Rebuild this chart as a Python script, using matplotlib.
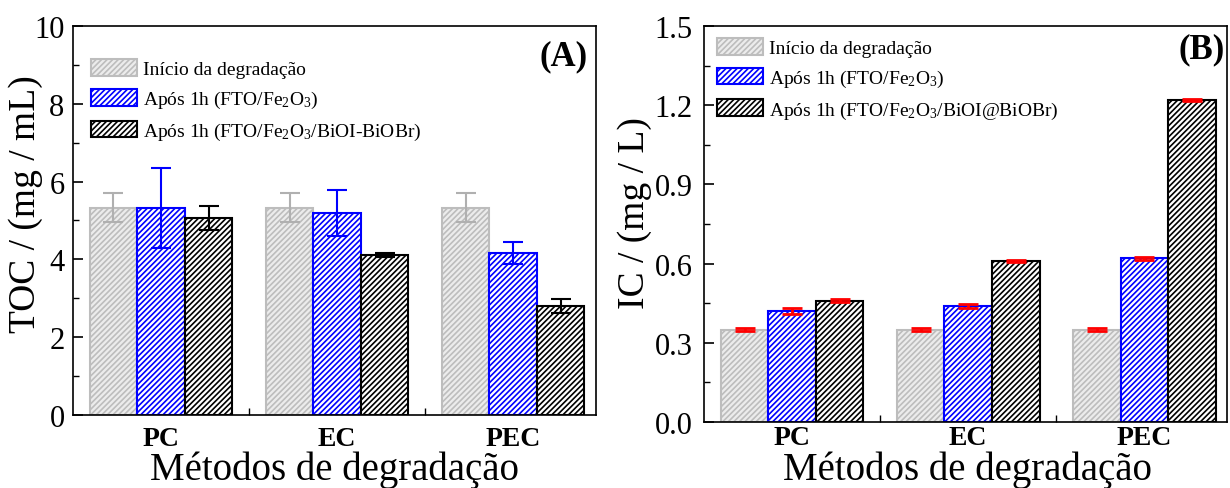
import matplotlib
matplotlib.use('Agg')
import matplotlib.pyplot as plt
import numpy as np
from matplotlib.ticker import MultipleLocator, FixedLocator, FormatStrFormatter

plt.rcParams['font.family'] = ['Liberation Serif', 'DejaVu Serif']
plt.rcParams['mathtext.fontset'] = 'custom'
plt.rcParams['mathtext.rm'] = 'Liberation Serif'
plt.rcParams['mathtext.it'] = 'Liberation Serif:italic'
plt.rcParams['mathtext.bf'] = 'Liberation Serif:bold'
plt.rcParams['hatch.linewidth'] = 1.2

# ---------------- data ----------------
categories = ['PC', 'EC', 'PEC']

labels_A = ['Início da degradação',
            'Após 1h (FTO/Fe$_2$O$_3$)',
            'Após 1h (FTO/Fe$_2$O$_3$/BiOI-BiOBr)']
labels_B = ['Início da degradação',
            'Após 1h (FTO/Fe$_2$O$_3$)',
            'Após 1h (FTO/Fe$_2$O$_3$/BiOI@BiOBr)']

toc_inicio = [5.33, 5.33, 5.33]
toc_inicio_err = [0.38, 0.38, 0.38]
toc_fe = [5.33, 5.19, 4.16]
toc_fe_err = [1.03, 0.60, 0.28]
toc_bi = [5.06, 4.12, 2.81]
toc_bi_err = [0.31, 0.05, 0.18]

ic_inicio = [0.35, 0.35, 0.35]
ic_inicio_err = [0.006, 0.006, 0.006]
ic_fe = [0.42, 0.44, 0.62]
ic_fe_err = [0.010, 0.007, 0.006]
ic_bi = [0.46, 0.61, 1.22]
ic_bi_err = [0.006, 0.005, 0.005]

# ---------------- style ----------------
face_cols = ['#ececec', 'white', 'white']
edge_cols = ['#bdbdbd', '#0000ff', '#000000']
err_A_cols = ['#b0b0b0', '#0000ff', '#000000']
offsets = [-0.27, 0.0, 0.27]
width = 0.27
hatch = '//////'

fig = plt.figure(figsize=(12.3, 4.89), dpi=100)
axA = fig.add_axes([0.0593, 0.1493, 0.4252, 0.7955])
axB = fig.add_axes([0.5724, 0.135, 0.4252, 0.8098])

x = np.arange(1, len(categories) + 1)


def style_axis(ax, ypad, xpad):
    for s in ax.spines.values():
        s.set_linewidth(1.2)
    ax.tick_params(axis='y', which='major', direction='in', length=7, width=1.2,
                   labelsize=22, pad=ypad)
    ax.tick_params(axis='y', which='minor', direction='in', length=4, width=1.0)
    ax.tick_params(axis='x', which='major', length=0, labelsize=20, pad=xpad)
    ax.tick_params(axis='x', which='minor', direction='in', length=5, width=1.0)
    ax.set_xticks(x)
    ax.set_xticklabels(categories, fontweight='bold')
    ax.xaxis.set_minor_locator(FixedLocator([1.5, 2.5]))
    ax.set_xlim(0.5, 3.47)


# Panel A
seriesA = [toc_inicio, toc_fe, toc_bi]
errA = [toc_inicio_err, toc_fe_err, toc_bi_err]
for i in range(3):
    axA.bar(x + offsets[i], seriesA[i], width, facecolor=face_cols[i],
            edgecolor=edge_cols[i], linewidth=1.5, hatch=hatch,
            label=labels_A[i], zorder=2)
for i in range(3):
    axA.errorbar(x + offsets[i], seriesA[i], yerr=errA[i], fmt='none',
                 ecolor=err_A_cols[i], elinewidth=1.5, capsize=7, capthick=1.5,
                 zorder=3)
axA.set_ylim(0, 10)
axA.yaxis.set_major_locator(MultipleLocator(2))
axA.yaxis.set_minor_locator(MultipleLocator(1))
style_axis(axA, ypad=6, xpad=8)
axA.set_ylabel('TOC / (mg / mL)', fontsize=27)
axA.yaxis.set_label_coords(-0.057, 0.545)
axA.set_xlabel('Métodos de degradação', fontsize=28, va='top')
axA.xaxis.set_label_coords(0.501, -0.092)
axA.text(0.985, 0.967, '(A)', transform=axA.transAxes, fontsize=25,
         fontweight='bold', ha='right', va='top')
axA.legend(loc='upper left', bbox_to_anchor=(0.034, 0.915), frameon=False,
           fontsize=14, handlelength=2.4, handleheight=0.95, handletextpad=0.3,
           labelspacing=0.55, borderpad=0, borderaxespad=0)

# Panel B
seriesB = [ic_inicio, ic_fe, ic_bi]
errB = [ic_inicio_err, ic_fe_err, ic_bi_err]
for i in range(3):
    axB.bar(x + offsets[i], seriesB[i], width, facecolor=face_cols[i],
            edgecolor=edge_cols[i], linewidth=1.5, hatch=hatch,
            label=labels_B[i], zorder=2)
for i in range(3):
    axB.errorbar(x + offsets[i], seriesB[i], yerr=errB[i], fmt='none',
                 ecolor='#ff0000', elinewidth=2.0, capsize=7, capthick=2.0,
                 zorder=3)
axB.set_ylim(0, 1.5)
axB.yaxis.set_major_locator(MultipleLocator(0.3))
axB.yaxis.set_minor_locator(MultipleLocator(0.15))
axB.yaxis.set_major_formatter(FormatStrFormatter('%.1f'))
style_axis(axB, ypad=8, xpad=2)
axB.set_ylabel('IC / (mg / L)', fontsize=27)
axB.yaxis.set_label_coords(-0.099, 0.53)
axB.set_xlabel('Métodos de degradação', fontsize=28, va='top')
axB.xaxis.set_label_coords(0.503, -0.073)
axB.text(0.995, 0.985, '(B)', transform=axB.transAxes, fontsize=25,
         fontweight='bold', ha='right', va='top')
axB.legend(loc='upper left', bbox_to_anchor=(0.024, 0.97), frameon=False,
           fontsize=14, handlelength=2.4, handleheight=0.95, handletextpad=0.3,
           labelspacing=0.55, borderpad=0, borderaxespad=0)

fig.savefig('out.png', dpi=100)
